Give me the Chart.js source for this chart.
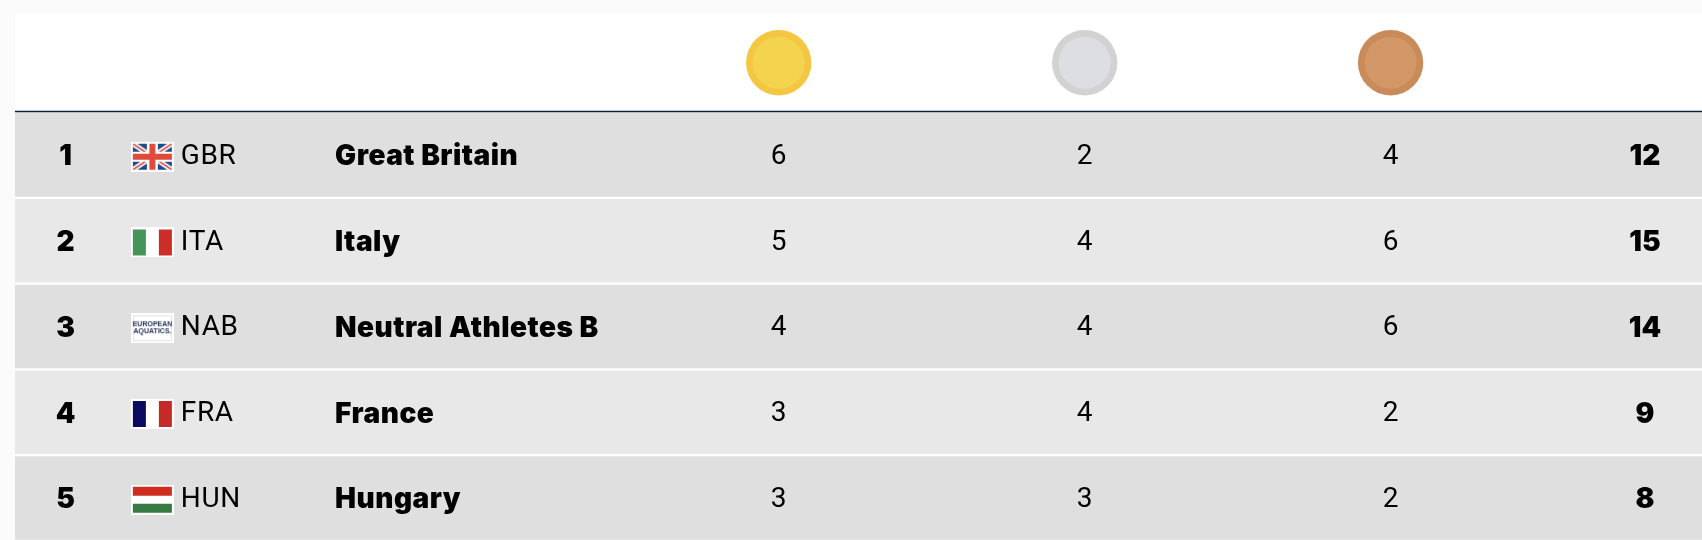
<!DOCTYPE html>
<html><head><meta charset="utf-8">
<style>
html,body{margin:0;padding:0;background:#FBFBFB;width:1702px;height:540px;overflow:hidden}
#wrap{position:absolute;left:15px;top:14px;width:1687px;height:526px;background:#fff}
canvas{display:block}
</style>
<script src="https://cdn.jsdelivr.net/npm/chart.js@4/dist/chart.umd.js"></script>
</head><body><div id="wrap"><canvas id="c" width="1687" height="526"></canvas></div>
<script>
const ranks=[1,2,3,4,5];
const codes=['GBR','ITA','NAB','FRA','HUN'];
const countries=['Great Britain','Italy','Neutral Athletes B','France','Hungary'];
const gold=[6,5,4,3,3];
const silver=[2,4,4,4,3];
const bronze=[4,6,6,2,2];
const totals=[12,15,14,9,8];

const col={rank:3.0,flag:8.14,code:9.83,name:18.97,gold:45.27,silver:63.41,bronze:81.54,total:96.62};
const medalRow=-0.0764, ruleRow=0.4927, row1Edge=0.5165, flagOffset=0.02;

function flag(draw){
  const c=document.createElement('canvas');c.width=43;c.height=30;
  const g=c.getContext('2d');g.fillStyle='#fff';g.fillRect(0,0,43,30);
  g.save();g.beginPath();g.rect(2,2,39,26);g.clip();draw(g);g.restore();return c;
}
function vstripes(a,b){return g=>{g.fillStyle=a;g.fillRect(2,2,13,26);g.fillStyle=b;g.fillRect(28,2,13,26);};}
const flags=[
 flag(g=>{
  g.fillStyle='#1F4A8C';g.fillRect(2,2,39,26);
  g.strokeStyle='#fff';g.lineWidth=5;
  g.beginPath();g.moveTo(2,2);g.lineTo(41,28);g.moveTo(41,2);g.lineTo(2,28);g.stroke();
  g.strokeStyle='#DF4A3B';g.lineWidth=1.6;
  g.beginPath();g.moveTo(2,2);g.lineTo(41,28);g.moveTo(41,2);g.lineTo(2,28);g.stroke();
  g.fillStyle='#fff';g.fillRect(16,2,11,26);g.fillRect(2,10,39,10);
  g.fillStyle='#DF4A3B';g.fillRect(18.5,2,6,26);g.fillRect(2,12,39,6);
 }),
 flag(vstripes('#459559','#CC2D27')),
 flag(g=>{
  g.strokeStyle='#E4E4E4';g.strokeRect(2.5,2.5,38,25);
  g.textAlign='center';g.textBaseline='middle';g.fillStyle='#26345F';
  g.font='700 7px "Liberation Sans Narrow","Liberation Sans",sans-serif';
  g.fillText('EUROPEAN',21.5,11.5);g.fillText('AQUATICS.',21.5,18.5);
 }),
 flag(vstripes('#0A0A5E','#C62A26')),
 flag(g=>{g.fillStyle='#CE2D20';g.fillRect(2,2,39,9);g.fillStyle='#357A40';g.fillRect(2,19,39,9);})
];

const cells=(x)=>ranks.map(r=>({x:x,y:r}));
const textDs=(x,labels,font,align,spacing)=>({type:'scatter',data:cells(x),pointRadius:0,order:1,cellLabels:labels,cellFont:font,cellAlign:align||'center',cellSpacing:spacing||'0px'});
const BOLD='900 28px Inter, sans-serif', REG='400 28px Roboto, sans-serif';

const labelPlugin={id:'cellLabels',afterDatasetsDraw(chart){
  const ctx=chart.ctx;ctx.save();ctx.fillStyle='#000';ctx.textBaseline='middle';
  chart.data.datasets.forEach((d,i)=>{
    if(!d.cellLabels)return;
    ctx.font=d.cellFont;ctx.textAlign=d.cellAlign;ctx.letterSpacing=d.cellSpacing;
    chart.getDatasetMeta(i).data.forEach((el,j)=>ctx.fillText(String(d.cellLabels[j]),el.x,el.y+2));
  });
  ctx.restore();
}};

new Chart(document.getElementById('c'),{
 type:'bar',
 data:{datasets:[
  {type:'bar',indexAxis:'y',grouped:false,order:5,barThickness:83,backgroundColor:'#DFDFDF',data:ranks.filter(r=>r%2).map(r=>({x:100,y:r}))},
  {type:'bar',indexAxis:'y',grouped:false,order:5,barThickness:83,backgroundColor:'#E8E8E8',data:ranks.filter(r=>!(r%2)).map(r=>({x:100,y:r}))},
  {type:'line',order:4,borderColor:'#DFDFDF',borderWidth:2,pointRadius:0,data:[{x:0,y:row1Edge},{x:100,y:row1Edge}]},
  {type:'line',order:3,borderColor:'#0B1C3D',borderWidth:1.3,pointRadius:0,data:[{x:0,y:ruleRow},{x:100,y:ruleRow}]},
  {type:'scatter',order:3,pointStyle:'circle',pointRadius:32.7,borderWidth:0,backgroundColor:['#F4C742','#D2D2D2','#C98B5A'],
   data:[{x:col.gold,y:medalRow},{x:col.silver,y:medalRow},{x:col.bronze,y:medalRow}]},
  {type:'scatter',order:2,pointStyle:'circle',pointRadius:26,borderWidth:0,backgroundColor:['#F4D34F','#DDDEE1','#D49768'],
   data:[{x:col.gold,y:medalRow},{x:col.silver,y:medalRow},{x:col.bronze,y:medalRow}]},
  {type:'scatter',order:2,pointStyle:flags,pointRadius:10,borderWidth:0,data:ranks.map(r=>({x:col.flag,y:r+flagOffset}))},
  textDs(col.rank,ranks,BOLD),
  textDs(col.code,codes,REG,'left','0.6px'),
  textDs(col.name,countries,BOLD,'left','0.5px'),
  textDs(col.gold,gold,REG),
  textDs(col.silver,silver,REG),
  textDs(col.bronze,bronze,REG),
  textDs(col.total,totals,BOLD)
 ]},
 options:{
  responsive:false,animation:false,devicePixelRatio:1,
  layout:{padding:0,autoPadding:false},
  plugins:{legend:{display:false},tooltip:{enabled:false}},
  elements:{line:{tension:0}},
  scales:{
   x:{type:'linear',min:0,max:100,offset:false,display:false},
   y:{type:'linear',min:-0.6443,max:5.4898,offset:false,reverse:true,display:false}
  }
 },
 plugins:[labelPlugin]
});
</script></body></html>
